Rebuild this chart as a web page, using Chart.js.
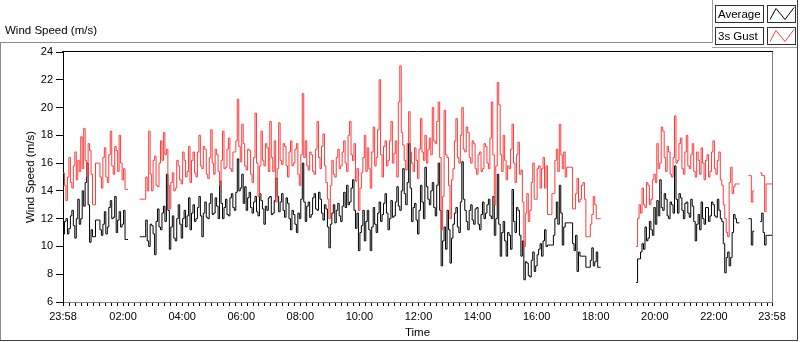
<!DOCTYPE html>
<html lang="en">
<head>
<meta charset="UTF-8">
<title>Wind Speed (m/s)</title>
<script src="https://cdn.jsdelivr.net/npm/chart.js"></script>
<style>
    body { margin: 0; background: #fff; }
    canvas { display: block; }
</style>
</head>
<body>
<canvas id="windChart" width="800" height="342"></canvas>
<script>
    // one sample every 3 minutes, starting at 23:58
    const stepMinutes = 3;

    const average = [
        10.9, 11.8, 12.0, 10.9, 11.3, 12.2, 12.6, 11.5, 10.6, 12.0,
        13.4, 11.6, 12.0, 14.0, 12.9, 14.6, 16.0, 13.0, 10.3, 11.2,
        10.7, 10.7, 11.9, 11.9, 11.9, 11.2, 10.8, 11.6, 12.5, 10.9,
        11.4, 12.8, 13.3, 12.0, 12.1, 13.6, 11.0, 11.9, 12.5, 11.4,
        11.6, 12.6, 10.5, 10.5, 10.5, null, null, null, null, null,
        null, null, 10.7, 10.7, 10.7, 10.7, 11.9, 10.4, 10.0, 11.6,
        11.5, 10.9, 9.4, 11.8, 12.7, 11.4, 11.2, 12.4, 12.9, 11.8,
        15.2, 12.6, 9.8, 11.4, 12.2, 10.6, 10.4, 12.0, 13.0, 11.6,
        10.6, 12.0, 12.6, 11.4, 12.2, 13.5, 11.2, 12.4, 13.0, 11.8,
        12.0, 12.8, 13.6, 12.2, 10.7, 12.4, 13.2, 12.1, 12.0, 13.1,
        13.8, 12.3, 12.4, 13.5, 12.9, 12.0, 14.7, 13.1, 12.0, 12.8,
        13.4, 12.3, 12.2, 13.5, 13.8, 12.8, 12.6, 13.9, 16.3, 14.0,
        14.2, 15.2, 13.1, 14.3, 12.6, 13.5, 13.9, 12.8, 12.4, 13.2,
        13.6, 12.5, 12.2, 13.8, 13.3, 12.7, 11.6, 12.9, 12.6, 13.5,
        13.6, 12.3, 12.4, 13.3, 14.9, 13.6, 12.5, 13.2, 13.8, 12.6,
        12.1, 13.5, 13.1, 12.0, 11.2, 12.6, 12.3, 11.6, 11.0, 12.4,
        12.0, 13.4, 16.0, 13.2, 11.8, 12.9, 13.2, 12.1, 12.3, 13.5,
        13.8, 12.7, 12.6, 13.9, 13.4, 12.4, 11.9, 13.0, 12.7, 11.4,
        9.9, 11.6, 12.4, 13.0, 11.7, 12.6, 13.1, 12.2, 11.8, 12.9,
        13.9, 12.8, 14.4, 13.0, 13.2, 14.2, 14.8, 12.6, 11.3, 12.4,
        9.7, 11.0, 11.5, 12.6, 10.4, 11.8, 12.6, 11.2, 9.7, 11.4,
        12.8, 11.6, 11.0, 12.4, 13.2, 11.8, 12.3, 13.1, 13.8, 12.4,
        11.2, 12.0, 13.3, 12.1, 12.2, 13.2, 14.3, 12.9, 12.6, 14.0,
        15.6, 13.8, 13.0, 14.6, 17.4, 14.2, 11.8, 12.8, 13.1, 11.9,
        10.9, 12.6, 14.4, 13.2, 12.0, 15.7, 14.3, 13.4, 13.0, 14.0,
        14.6, 12.8, 12.2, 14.4, 16.0, 12.6, 8.6, 10.4, 11.4, 9.8,
        12.6, 11.2, 8.8, 10.6, 11.6, 12.4, 12.8, 11.4, 11.0, 13.2,
        16.1, 13.4, 12.6, 11.8, 11.2, 12.6, 13.0, 11.9, 11.6, 12.7,
        12.8, 11.6, 11.2, 12.3, 13.2, 12.0, 12.4, 13.0, 13.4, 12.2,
        12.0, 13.6, 10.8, 12.0, 15.2, 11.6, 9.3, 11.0, 11.8, 10.4,
        9.3, 11.0, 10.8, 9.8, 14.1, 11.8, 11.0, 12.8, 12.6, 10.8,
        9.3, 10.4, 7.6, 8.9, 8.8, 7.9, 7.8, 9.0, 9.6, 8.2,
        8.6, 9.4, 9.8, 10.2, 9.3, 10.4, 11.2, 10.0, 10.1, 10.1,
        10.1, 10.1, 10.8, 12.0, 13.2, 11.6, 14.4, 12.4, 10.1, 11.4,
        11.7, 11.7, 11.7, 11.7, 11.7, 10.2, 9.7, 10.8, 8.2, 9.6,
        9.3, 9.3, 9.3, 9.3, 8.5, 8.5, 8.5, 9.0, 9.9, 8.6,
        8.9, 9.6, 8.5, 8.5, 8.5, null, null, null, null, null,
        null, null, null, null, null, null, null, null, null, null,
        null, null, null, null, null, null, null, null, 7.4, 9.1,
        9.1, 9.6, 10.2, 9.8, 11.4, 10.4, 10.6, 11.8, 11.2, 10.8,
        12.8, 11.6, 13.3, 12.2, 14.8, 12.8, 12.6, 13.8, 13.4, 12.2,
        12.0, 13.2, 13.0, 12.4, 15.8, 13.4, 12.4, 13.8, 13.5, 12.6,
        12.0, 13.1, 13.2, 12.4, 12.1, 13.4, 12.9, 11.8, 10.4, 11.6,
        12.3, 11.2, 13.2, 12.0, 11.6, 12.8, 12.8, 11.8, 12.2, 13.2,
        13.0, 12.2, 12.1, 13.4, 12.6, 12.0, 11.8, 10.2, 8.1, 9.2,
        9.6, 8.6, 9.2, 11.0, 12.3, 12.0, 11.7, 11.7, 11.7, null,
        null, null, null, null, 12.0, 12.0, 10.1, 11.1, 11.1, null,
        null, null, 11.8, 12.4, 11.0, 10.1, 10.8, 10.8, 10.8, 10.8,
        10.8
    ];

    const gust = [
        15.3, 14.4, 13.3, 15.0, 16.4, 14.6, 14.2, 15.8, 16.8, 14.8,
        16.2, 15.4, 17.9, 15.6, 18.5, 16.2, 15.0, 17.4, 16.9, 15.2,
        13.0, 13.0, 16.0, 16.0, 16.0, 15.0, 14.2, 16.4, 17.1, 15.0,
        14.6, 16.6, 18.3, 15.8, 15.2, 17.2, 16.9, 15.4, 18.0, 16.0,
        14.8, 15.6, 14.1, 14.1, 14.1, null, null, null, null, null,
        null, null, 13.4, 13.4, 13.4, 13.4, 15.0, 14.0, 18.3, 15.2,
        14.0, 16.2, 16.5, 14.4, 14.3, 16.0, 17.6, 16.2, 18.2, 16.6,
        17.0, 14.4, 12.7, 14.6, 15.3, 14.0, 14.2, 16.2, 15.8, 14.8,
        14.5, 16.8, 16.2, 15.0, 15.4, 17.2, 14.6, 16.2, 16.8, 15.3,
        15.0, 16.8, 18.0, 15.8, 15.6, 17.2, 17.0, 15.2, 14.9, 16.4,
        18.4, 16.0, 15.2, 17.0, 16.6, 15.4, 14.4, 16.2, 18.3, 15.6,
        15.7, 17.0, 17.8, 15.6, 15.4, 16.8, 16.8, 17.6, 20.6, 17.2,
        16.1, 18.8, 17.4, 15.8, 15.5, 17.0, 16.9, 15.2, 14.6, 16.4,
        19.6, 16.0, 13.6, 15.8, 18.3, 16.2, 15.8, 17.4, 17.1, 15.4,
        19.0, 16.4, 15.4, 17.6, 13.2, 15.6, 18.9, 16.2, 15.9, 17.4,
        17.2, 15.8, 15.0, 16.8, 17.6, 15.8, 16.0, 17.0, 17.4, 15.2,
        14.4, 16.6, 21.0, 16.4, 17.6, 15.8, 15.5, 16.8, 16.6, 15.4,
        15.2, 17.0, 19.0, 16.4, 15.6, 17.2, 18.1, 15.8, 14.6, 13.4,
        12.0, 14.4, 16.2, 15.2, 15.0, 16.4, 17.0, 15.6, 15.8, 16.8,
        17.6, 16.0, 15.4, 18.0, 19.0, 16.6, 16.2, 17.4, 14.7, 15.6,
        12.6, 14.2, 15.3, 16.4, 18.0, 15.4, 17.1, 15.6, 14.2, 16.8,
        18.6, 15.8, 16.4, 18.4, 22.0, 16.6, 15.0, 17.2, 17.6, 15.8,
        16.2, 17.6, 19.0, 16.0, 16.7, 17.6, 15.0, 20.4, 23.0, 18.2,
        17.3, 16.2, 15.5, 17.4, 19.7, 16.8, 16.0, 15.4, 17.1, 16.2,
        14.9, 17.0, 19.2, 16.8, 16.2, 18.0, 16.0, 17.0, 17.8, 16.6,
        20.0, 17.6, 17.4, 19.0, 20.4, 16.4, 11.2, 13.6, 19.8, 16.6,
        16.4, 14.4, 12.0, 14.8, 15.6, 17.6, 19.2, 16.4, 16.0, 18.0,
        20.0, 17.0, 16.8, 18.6, 18.2, 16.4, 16.0, 17.6, 17.4, 15.6,
        15.2, 16.6, 16.8, 15.4, 15.6, 17.4, 17.2, 16.0, 15.6, 17.8,
        20.4, 16.6, 13.0, 15.8, 21.8, 20.2, 16.6, 15.4, 18.0, 16.2,
        14.8, 15.8, 15.6, 17.0, 18.8, 16.0, 14.6, 16.6, 17.5, 15.2,
        15.5, 13.2, 10.0, 12.4, 13.8, 11.8, 12.6, 14.6, 16.0, 13.4,
        13.4, 15.6, 15.8, 14.2, 15.6, 16.4, 14.2, 15.8, 12.3, 12.3,
        12.3, 13.8, 13.8, 16.2, 17.0, 15.4, 18.8, 16.6, 15.6, 16.8,
        15.0, 15.7, 15.7, 15.7, 15.7, 12.7, 12.7, 13.8, 14.9, 13.2,
        13.4, 14.4, 14.6, 13.4, 10.7, 10.7, 10.7, 11.6, 12.3, 13.6,
        13.0, 12.0, 12.0, 12.0, 12.0, null, null, null, null, null,
        null, null, null, null, null, null, null, null, null, null,
        null, null, null, null, null, null, null, null, 10.0, 12.0,
        13.0, 12.4, 14.2, 13.0, 12.8, 14.6, 14.4, 13.0, 13.4, 14.8,
        15.2, 14.6, 17.4, 15.6, 16.0, 18.6, 18.3, 16.4, 15.4, 17.2,
        16.8, 15.2, 15.0, 16.4, 19.4, 16.0, 16.2, 17.4, 17.8, 15.6,
        15.2, 16.8, 18.0, 15.8, 15.6, 16.6, 17.4, 15.4, 15.0, 16.8,
        16.2, 15.2, 17.1, 16.0, 14.8, 16.2, 16.6, 15.0, 15.4, 16.8,
        17.6, 15.6, 15.2, 16.2, 16.8, 14.8, 14.4, 13.0, 12.0, 11.0,
        10.7, 14.6, 15.7, 13.8, 14.3, 14.5, 14.5, 14.5, 14.5, null,
        null, null, null, null, 15.1, 15.1, 13.2, 14.0, 14.0, null,
        null, null, 15.3, 15.1, 15.1, 12.5, 14.5, 14.5, 14.5, 14.5,
        14.5
    ];

    // labelled time ticks, in minutes after 23:58
    const tickMinutes = [0, 122, 242, 362, 482, 602, 722, 842, 962, 1082, 1202, 1322, 1440];
    const tickLabels = ['23:58', '02:00', '04:00', '06:00', '08:00', '10:00', '12:00',
                        '14:00', '16:00', '18:00', '20:00', '22:00', '23:58'];

    const FONT = '"Liberation Sans", Arial, sans-serif';

    const toPoints = vals => vals.map((v, i) => ({x: i * stepMinutes, y: v}));

    // small ticks every 12 min between the labelled ones
    const allTicks = tickMinutes.slice();
    for (let m = 14; m < 1440; m += 12) {
        if (!allTicks.includes(m)) allTicks.push(m);
    }
    allTicks.sort((a, b) => a - b);

    function line(ctx, x1, y1, x2, y2, color) {
        ctx.strokeStyle = color;
        ctx.beginPath();
        ctx.moveTo(x1, y1);
        ctx.lineTo(x2, y2);
        ctx.stroke();
    }

    const framePlugin = {
        id: 'frame',
        afterDraw(chart) {
            const {ctx, chartArea: a} = chart;
            ctx.save();
            ctx.lineWidth = 1;

            // plot box top and right edges
            line(ctx, a.left - 1, Math.round(a.top) - 0.5, a.right + 1, Math.round(a.top) - 0.5, '#000');
            line(ctx, Math.round(a.right) + 0.5, a.top, Math.round(a.right) + 0.5, a.bottom + 1, '#808080');

            // outer panel
            line(ctx, 0, 42.5, 712, 42.5, '#8c8c8c');
            line(ctx, 0.5, 42, 0.5, 341, '#8c8c8c');
            line(ctx, 712.5, 0, 712.5, 43, '#a0a0a0');
            line(ctx, 712, 47.5, 798, 47.5, '#a0a0a0');
            line(ctx, 0, 340.5, 798, 340.5, '#404040');
            line(ctx, 797.5, 0, 797.5, 341, '#404040');

            // chart title
            ctx.font = '11.5px ' + FONT;
            ctx.fillStyle = '#000';
            ctx.textBaseline = 'middle';
            ctx.textAlign = 'left';
            ctx.fillText('Wind Speed (m/s)', 5, 31);

            // plot legend
            chart.data.datasets.forEach((ds, k) => {
                const top = 5.5 + k * 22;
                ctx.fillStyle = '#fff';
                ctx.fillRect(715, top, 48, 17);
                ctx.fillRect(767, top, 29, 17);
                ctx.strokeStyle = '#303030';
                ctx.strokeRect(715.5, top, 48, 17);
                ctx.strokeRect(767.5, top, 28, 17);
                ctx.fillStyle = '#000';
                ctx.fillText(ds.label, 718, top + 9);
                ctx.strokeStyle = ds.borderColor;
                ctx.beginPath();
                ctx.moveTo(770, top + 14);
                ctx.lineTo(776, top + 3);
                ctx.lineTo(785, top + 14);
                ctx.lineTo(794, top + 2);
                ctx.stroke();
            });
            ctx.restore();
        }
    };

    new Chart(document.getElementById('windChart'), {
        type: 'line',
        data: {
            datasets: [{
                label: 'Average',
                data: toPoints(average),
                borderColor: '#000000',
                borderWidth: 1,
                order: 1
            }, {
                label: '3s Gust',
                data: toPoints(gust),
                borderColor: '#ff3c3c',
                borderWidth: 1,
                order: 0
            }]
        },
        options: {
            responsive: false,
            animation: false,
            layout: { padding: { left: 20, top: 52, right: 28, bottom: 0 } },
            elements: {
                point: { radius: 0 },
                line: { stepped: true, tension: 0 }
            },
            spanGaps: false,
            plugins: {
                legend: { display: false },
                tooltip: { enabled: false }
            },
            scales: {
                x: {
                    type: 'linear',
                    min: 0,
                    max: 1440,
                    afterBuildTicks: s => { s.ticks = allTicks.map(v => ({value: v})); },
                    afterFit: s => { s.height = 40; },
                    grid: { drawOnChartArea: false, tickLength: 4, color: '#000' },
                    border: { color: '#808080' },
                    ticks: {
                        autoSkip: false,
                        maxRotation: 0,
                        minRotation: 0,
                        padding: 4,
                        color: '#000',
                        font: { family: FONT, size: 11 },
                        callback: v => {
                            const k = tickMinutes.indexOf(v);
                            return k >= 0 ? tickLabels[k] : '';
                        }
                    },
                    title: {
                        display: true,
                        text: 'Time',
                        color: '#000',
                        font: { family: FONT, size: 11.5 },
                        padding: { top: 0, bottom: 2 }
                    }
                },
                y: {
                    min: 6,
                    max: 24,
                    afterFit: s => { s.width = 43; },
                    grid: { drawOnChartArea: false, tickLength: 7, color: '#000' },
                    border: { color: '#000' },
                    ticks: {
                        stepSize: 2,
                        padding: 3,
                        color: '#000',
                        font: { family: FONT, size: 11 }
                    },
                    title: {
                        display: true,
                        text: 'Wind Speed (m/s)',
                        color: '#000',
                        font: { family: FONT, size: 11.5 },
                        padding: { top: 4, bottom: 4 }
                    }
                }
            }
        },
        plugins: [framePlugin]
    });
</script>
</body>
</html>
